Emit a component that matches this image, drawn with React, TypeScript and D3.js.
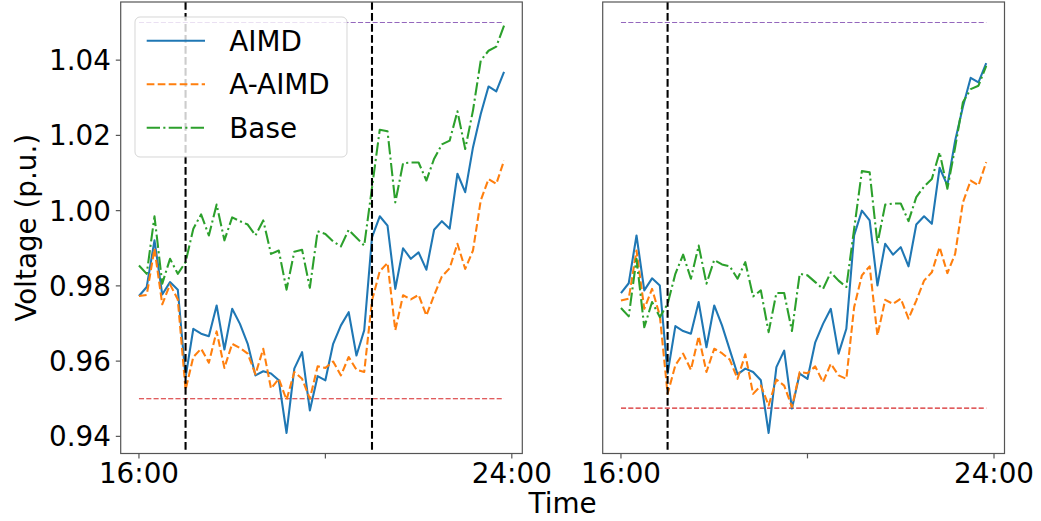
import React from "react";
import * as d3 from "d3";

// voltage profiles, 10-min steps from 16:00 to 23:50
const leftAimd = [
  0.9773, 0.9797, 0.9921, 0.9777, 0.981, 0.979, 0.9557, 0.9686, 0.9673, 0.9666,
  0.9748, 0.9631, 0.9739, 0.9699, 0.9646, 0.9562, 0.9573, 0.9567, 0.9549, 0.9409,
  0.958, 0.9624, 0.9469, 0.956, 0.9549, 0.9646, 0.9695, 0.973, 0.9615, 0.9682,
  0.9929, 0.9985, 0.996, 0.9792, 0.99, 0.9872, 0.9889, 0.9843, 0.9949, 0.9972,
  0.9952, 1.0098, 1.0049, 1.0168, 1.0257, 1.033, 1.0317, 1.0369,
];
const leftAAimd = [
  0.9773, 0.9776, 0.9899, 0.9751, 0.9804, 0.9764, 0.9524, 0.9611, 0.9633, 0.9596,
  0.9679, 0.9582, 0.9646, 0.9635, 0.962, 0.9565, 0.9633, 0.9527, 0.9553, 0.9497,
  0.9571, 0.9553, 0.95, 0.9586, 0.9582, 0.9599, 0.9562, 0.9611, 0.9577, 0.9571,
  0.9761, 0.9839, 0.9861, 0.9682, 0.9775, 0.9764, 0.9776, 0.9721, 0.9775, 0.9825,
  0.9847, 0.9912, 0.9845, 0.9894, 1.0027, 1.0084, 1.0071, 1.0133,
];
const leftBase = [
  0.9854, 0.9832, 0.9985, 0.9806, 0.9872, 0.9832, 0.9863, 0.9952, 0.999, 0.9934,
  1.0016, 0.9921, 0.9982, 0.9972, 0.9963, 0.9934, 0.9974, 0.9885, 0.9894, 0.979,
  0.9891, 0.9896, 0.9795, 0.9945, 0.9938, 0.9918, 0.9905, 0.9949, 0.9928, 0.9907,
  1.0061, 1.0215, 1.0211, 1.0022, 1.0126, 1.0128, 1.0128, 1.008, 1.0138, 1.0176,
  1.0186, 1.0264, 1.0164, 1.0266, 1.0399, 1.0425, 1.0436, 1.0492,
];
const rightAimd = [
  0.9781, 0.9807, 0.9934, 0.9788, 0.982, 0.9801, 0.9567, 0.9693, 0.968, 0.9673,
  0.9757, 0.9637, 0.9748, 0.9695, 0.963, 0.9565, 0.958, 0.9571, 0.9549, 0.9409,
  0.9584, 0.9628, 0.9474, 0.9567, 0.9553, 0.965, 0.9699, 0.9739, 0.962, 0.9686,
  0.9934, 1.0, 0.9974, 0.9801, 0.9912, 0.9883, 0.9903, 0.9852, 0.9963, 0.9985,
  0.9965, 1.0114, 1.0067, 1.0186, 1.0276, 1.0353, 1.0341, 1.0392,
];
const rightAAimd = [
  0.9761, 0.9766, 0.9894, 0.9739, 0.9792, 0.9721, 0.9513, 0.9589, 0.962, 0.9577,
  0.9666, 0.9571, 0.9633, 0.9621, 0.9604, 0.9553, 0.9618, 0.9513, 0.9535, 0.9482,
  0.9551, 0.9535, 0.9478, 0.9571, 0.9568, 0.9586, 0.9544, 0.9593, 0.9562, 0.9553,
  0.9743, 0.9828, 0.9852, 0.9668, 0.9763, 0.9752, 0.9766, 0.9713, 0.9761, 0.9814,
  0.9836, 0.9903, 0.9834, 0.9885, 1.0022, 1.008, 1.0067, 1.0129,
];
const rightBase = [
  0.9741, 0.9719, 0.9872, 0.969, 0.9757, 0.9717, 0.9752, 0.9832, 0.9883, 0.9819,
  0.9907, 0.9806, 0.9869, 0.9857, 0.9852, 0.9819, 0.9863, 0.9772, 0.9788, 0.9677,
  0.9781, 0.9781, 0.968, 0.9832, 0.9828, 0.981, 0.9792, 0.9836, 0.9814, 0.9797,
  0.9951, 1.0105, 1.0102, 0.9912, 1.0016, 1.0019, 1.0019, 0.9972, 1.0036, 1.0064,
  1.0084, 1.0155, 1.0058, 1.0168, 1.0288, 1.0323, 1.0332, 1.0385,
];

const seriesNames = ["AIMD", "A-AIMD", "Base"];
const upperLimit = 1.05;
const leftLower = 0.95;
const rightLower = 0.9475;
const leftEvents = [6, 30];
const rightEvents = [6];
const xTicks = [0, 24, 48];
const xTickLabels = ["16:00", "", "24:00"];
const yTicks = [0.94, 0.96, 0.98, 1.0, 1.02, 1.04];

const W = 1041;
const H = 521;
const FONT = "DejaVu Sans";
const FS = 27.8;
const top = 2;
const bottom = 453.5;
const SPINE = "#555";

const styles = [
  { color: "#1f77b4", dash: "" },
  { color: "#ff7f0e", dash: "7.7,3.3" },
  { color: "#2ca02c", dash: "13.3,3.3,2.1,3.3" },
];

const n = leftAimd.length;
const allVals = [
  ...leftAimd, ...leftAAimd, ...leftBase,
  ...rightAimd, ...rightAAimd, ...rightBase,
  upperLimit, leftLower, rightLower,
];
const [ymin, ymax] = d3.extent(allVals) as [number, number];
const ypad = (ymax - ymin) * 0.05;

const y = d3.scaleLinear().domain([ymin - ypad, ymax + ypad]).range([bottom, top]);

type PanelProps = {
  x0: number;
  x1: number;
  series: number[][];
  lower: number;
  events: number[];
};

const Panel = ({ x0, x1, series, lower, events }: PanelProps) => {
  const pad = (n - 1) * 0.05;
  const x = d3.scaleLinear().domain([-pad, n - 1 + pad]).range([x0, x1]);
  const line = d3
    .line<number>()
    .x((_, i) => x(i))
    .y((d) => y(d));

  return (
    <g>
      {/* limits */}
      <line x1={x(0)} x2={x(n - 1)} y1={y(upperLimit)} y2={y(upperLimit)}
        stroke="#9467bd" strokeWidth={1.2} strokeDasharray="5.1,2.2" />
      <line x1={x(0)} x2={x(n - 1)} y1={y(lower)} y2={y(lower)}
        stroke="#d62728" strokeWidth={1.2} strokeDasharray="5.1,2.2" />
      {series.map((s, k) => (
        <path key={k} d={line(s) || ""} fill="none" stroke={styles[k].color}
          strokeWidth={2.08} strokeDasharray={styles[k].dash} strokeLinejoin="round" />
      ))}
      {events.map((e) => (
        <line key={e} x1={x(e)} x2={x(e)} y1={top} y2={bottom}
          stroke="#000" strokeWidth={2.08} strokeDasharray="7.7,3.3" />
      ))}
      <rect x={x0} y={top} width={x1 - x0} height={bottom - top}
        fill="none" stroke={SPINE} strokeWidth={1.2} />
      {xTicks.map((t, i) => (
        <g key={t}>
          <line x1={x(t)} x2={x(t)} y1={bottom} y2={bottom + 4.9} stroke={SPINE} strokeWidth={1.2} />
          <text x={x(t)} y={483} textAnchor="middle" fontFamily={FONT} fontSize={FS}>
            {xTickLabels[i]}
          </text>
        </g>
      ))}
    </g>
  );
};

const Legend = () => (
  <g>
    <rect x={135} y={17} width={212} height={140} rx={5} fill="#fff" fillOpacity={0.8}
      stroke="#cccccc" strokeOpacity={0.8} strokeWidth={1} />
    {seriesNames.map((name, k) => {
      const cy = 40.7 + k * 43.5;
      return (
        <g key={name}>
          <line x1={146.7} x2={205} y1={cy} y2={cy} stroke={styles[k].color}
            strokeWidth={2.08} strokeDasharray={styles[k].dash} />
          <text x={229.3} y={cy + 10.1} fontFamily={FONT} fontSize={FS}>{name}</text>
        </g>
      );
    })}
  </g>
);

const App = () => {
  const lx0 = 120.7, lx1 = 522.3, rx0 = 602.7, rx1 = 1004.5;
  return (
    <svg width={W} height={H} style={{ position: "absolute", left: 0, top: 0, background: "#fff" }}>
      <rect width={W} height={H} fill="#fff" />
      <Panel x0={lx0} x1={lx1} series={[leftAimd, leftAAimd, leftBase]} lower={leftLower} events={leftEvents} />
      <Panel x0={rx0} x1={rx1} series={[rightAimd, rightAAimd, rightBase]} lower={rightLower} events={rightEvents} />
      {yTicks.map((t) => (
        <g key={t}>
          <line x1={lx0 - 4.9} x2={lx0} y1={y(t)} y2={y(t)} stroke={SPINE} strokeWidth={1.2} />
          <text x={lx0 - 9.8} y={y(t) + 10.1} textAnchor="end" fontFamily={FONT} fontSize={FS}>
            {d3.format(".2f")(t)}
          </text>
        </g>
      ))}
      <Legend />
      <text transform={`translate(36,${(top + bottom) / 2}) rotate(-90)`} textAnchor="middle"
        fontFamily={FONT} fontSize={FS}>Voltage (p.u.)</text>
      <text x={(lx0 + rx1) / 2} y={513} textAnchor="middle" fontFamily={FONT} fontSize={FS}>Time</text>
    </svg>
  );
};

export default App;
